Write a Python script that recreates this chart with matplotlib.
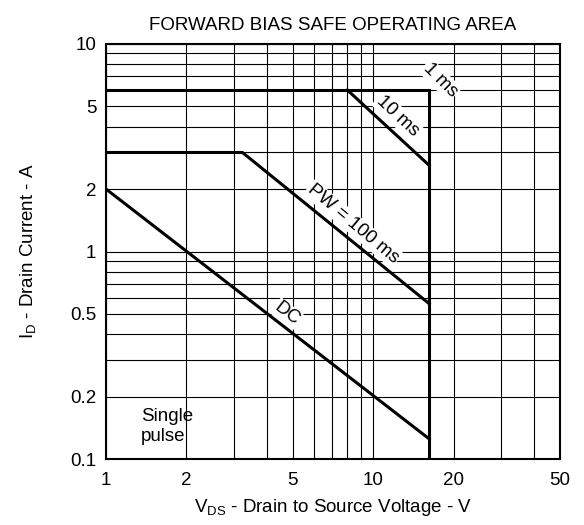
import matplotlib.pyplot as plt

plt.rcParams['font.family'] = ['Liberation Sans', 'DejaVu Sans']

# SOA boundary curves (V, A)
box_v = [1, 16.2, 16.2]          # 1 ms limit: 6 A ceiling, then drain voltage limit
box_i = [6, 6, 0.1]
ms10_v = [8, 16.2]
ms10_i = [6, 2.6]
pw100_v = [1, 3.24, 16.2]
pw100_i = [3, 3, 0.56]
dc_v = [1, 16.2]
dc_i = [2, 0.125]

x_ticks = [1, 2, 5, 10, 20, 50]
y_ticks = [0.1, 0.2, 0.5, 1, 2, 5, 10]

fig = plt.figure(figsize=(5.84, 5.25), dpi=100)
ax = fig.add_axes([0.1815, 0.1257, 0.7775, 0.7905])
ax.set_xscale('log')
ax.set_yscale('log')
ax.set_xlim(1, 50)
ax.set_ylim(0.1, 10)

ax.grid(True, which='both', color='black', linewidth=0.8)
ax.set_axisbelow(True)

lw = 2.2
ax.plot(box_v, box_i, color='black', lw=lw, solid_capstyle='butt', solid_joinstyle='miter', zorder=3)
ax.plot(ms10_v, ms10_i, color='black', lw=lw, zorder=3)
ax.plot(pw100_v, pw100_i, color='black', lw=lw, solid_joinstyle='miter', zorder=3)
ax.plot(dc_v, dc_i, color='black', lw=lw, zorder=3)

ax.set_xticks(x_ticks)
ax.set_xticklabels([str(v) for v in x_ticks])
ax.set_yticks(y_ticks)
ax.set_yticklabels(['0.1', '0.2', '0.5', '1', '2', '5', '10'])
ax.minorticks_on()
ax.tick_params(which='both', length=0, labelsize=13.5)
ax.tick_params(axis='x', pad=9)
ax.tick_params(axis='y', pad=7)
ax.tick_params(axis='x', which='minor', labelbottom=False)
ax.tick_params(axis='y', which='minor', labelleft=False)
for s in ax.spines.values():
    s.set_linewidth(1.5)

fs = 13.5
bb = dict(facecolor='white', edgecolor='none', pad=1.0)
ax.text(17.8, 6.7, '1 ms', rotation=-45, ha='center', va='center', fontsize=fs, bbox=bb, zorder=2.5)
ax.text(12.3, 4.5, '10 ms', rotation=-43, ha='center', va='center', fontsize=fs, bbox=bb, zorder=2.5)
ax.text(8.4, 1.36, 'PW = 100 ms', rotation=-40, ha='center', va='center', fontsize=fs, bbox=bb, zorder=2.5)
ax.text(4.75, 0.5, 'DC', rotation=-38, ha='center', va='center', fontsize=fs, bbox=bb, zorder=2.5)
ax.text(1.35, 0.143, 'Single\npulse', ha='left', va='center', fontsize=fs, linespacing=1.2)

ax.set_title('FORWARD BIAS SAFE OPERATING AREA', fontsize=fs, pad=10)
ax.set_xlabel(r'V$_{\mathregular{DS}}$ - Drain to Source Voltage - V', fontsize=fs, labelpad=6)
ax.set_ylabel(r'I$_{\mathregular{D}}$ - Drain Current - A', fontsize=fs, labelpad=22)

fig.savefig('out.png', dpi=100)
